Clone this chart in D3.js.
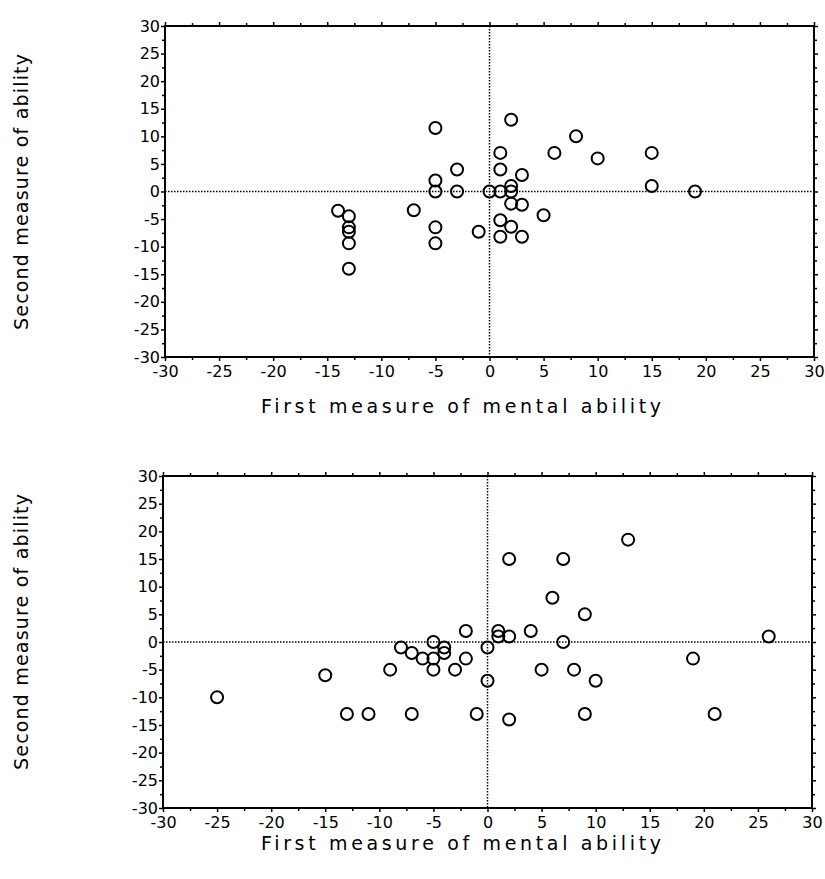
<!DOCTYPE html>
<html>
<head>
<meta charset="utf-8">
<script src="https://cdn.jsdelivr.net/npm/d3@7"></script>
<style>
  body { margin: 0; background: #fff; }
  text { font-family: "DejaVu Sans", Verdana, sans-serif; fill: #000; }
</style>
</head>
<body>
<div id="chart-area"></div>
<script>
// tick labels shared by both panels
const majorTicks = [-30, -25, -20, -15, -10, -5, 0, 5, 10, 15, 20, 25, 30]
const minorTicks = [-27.5, -22.5, -17.5, -12.5, -7.5, -2.5, 2.5, 7.5, 12.5, 17.5, 22.5, 27.5]

// top panel: first vs second measure
const topX = [-5, -5, -5, -3, -3, 0, 1, 2, 2, 2, 1, 1, 3, 6, 8, 10, 15, 15, 19,
              -14, -13, -13, -13, -13, -13, -7, -5, -5, -1, 1, 2, 1, 3, 2, 3, 5]
const topY = [11.5, 2, 0, 4, 0, 0, 0, 1, 0, 13, 7, 4, 3, 7, 10, 6, 7, 1, 0,
              -3.5, -4.5, -6.5, -7.3, -9.4, -14, -3.4, -6.5, -9.4, -7.3, -5.2, -6.4, -8.2, -8.2, -2.2, -2.4, -4.3]

// bottom panel
const botX = [-25, -15, -13, -11, -7, -9, -8, -7, -6, -5, -5, -5, -4, -4, -3, -2, -2, -1, 0, 0,
              1, 1, 2, 4, 7, 5, 8, 10, 9, 2, 19, 21, 26, 2, 7, 13, 6, 9]
const botY = [-10, -6, -13, -13, -13, -5, -1, -2, -3, 0, -3, -5, -1, -2, -5, -3, 2, -13, -1, -7,
              2, 1, 1, 2, 0, -5, -5, -7, -13, -14, -3, -13, 1, 15, 15, 18.5, 8, 5]

const xTitle = "First measure of mental ability"
const yTitle = "Second measure of ability"

const svg = d3.select("#chart-area").append("svg")
    .attr("width", 825)
    .attr("height", 879)

const panels = [
    { xs: topX, ys: topY, left: 165, right: 814, top: 26, bottom: 357, titleY: 413, yTitleY: 192 },
    { xs: botX, ys: botY, left: 163, right: 812, top: 476, bottom: 808, titleY: 850, yTitleY: 632 }
]

const fmt = d => String(d)   // plain hyphen for negatives, like the original

panels.forEach(p => {
    const x = d3.scaleLinear().domain([-30, 30]).range([p.left, p.right])
    const y = d3.scaleLinear().domain([-30, 30]).range([p.bottom, p.top])
    const g = svg.append("g")

    // minor ticks (no labels) on all four sides
    const minor = [
        [d3.axisBottom(x), `translate(0,${p.bottom})`],
        [d3.axisTop(x), `translate(0,${p.top})`],
        [d3.axisLeft(y), `translate(${p.left},0)`],
        [d3.axisRight(y), `translate(${p.right},0)`]
    ]
    minor.forEach(([ax, tr]) => {
        g.append("g")
            .attr("transform", tr)
            .call(ax.tickValues(minorTicks).tickSize(3).tickFormat(""))
            .call(s => s.select(".domain").remove())
            .selectAll("line").attr("stroke-width", 1.5)
    })

    // major ticks, labels only bottom and left
    g.append("g")
        .attr("transform", `translate(0,${p.bottom})`)
        .call(d3.axisBottom(x).tickValues(majorTicks).tickSize(4).tickPadding(5).tickFormat(fmt))
        .call(s => s.select(".domain").remove())
        .call(s => s.selectAll("line").attr("stroke-width", 1.5))
        .selectAll("text").attr("font-size", 16)

    g.append("g")
        .attr("transform", `translate(${p.left},0)`)
        .call(d3.axisLeft(y).tickValues(majorTicks).tickSize(4).tickPadding(1).tickFormat(fmt))
        .call(s => s.select(".domain").remove())
        .call(s => s.selectAll("line").attr("stroke-width", 1.5))
        .selectAll("text").attr("font-size", 16)

    g.append("g")
        .attr("transform", `translate(0,${p.top})`)
        .call(d3.axisTop(x).tickValues(majorTicks).tickSize(4).tickFormat(""))
        .call(s => s.select(".domain").remove())
        .selectAll("line").attr("stroke-width", 1.5)

    g.append("g")
        .attr("transform", `translate(${p.right},0)`)
        .call(d3.axisRight(y).tickValues(majorTicks).tickSize(4).tickFormat(""))
        .call(s => s.select(".domain").remove())
        .selectAll("line").attr("stroke-width", 1.5)

    // dotted zero lines
    g.append("line")
        .attr("x1", p.left).attr("x2", p.right)
        .attr("y1", y(0)).attr("y2", y(0))
        .attr("stroke", "#000").attr("stroke-width", 1.5)
        .attr("stroke-dasharray", "1.5,1.5")
    g.append("line")
        .attr("x1", x(0)).attr("x2", x(0))
        .attr("y1", p.top).attr("y2", p.bottom)
        .attr("stroke", "#000").attr("stroke-width", 1.5)
        .attr("stroke-dasharray", "1.5,1.5")

    // frame
    g.append("rect")
        .attr("x", p.left).attr("y", p.top)
        .attr("width", p.right - p.left).attr("height", p.bottom - p.top)
        .attr("fill", "none").attr("stroke", "#000").attr("stroke-width", 2)

    // points
    g.selectAll("circle")
        .data(p.xs.map((v, i) => [v, p.ys[i]]))
        .enter().append("circle")
        .attr("cx", d => x(d[0]))
        .attr("cy", d => y(d[1]))
        .attr("r", 6)
        .attr("fill", "none")
        .attr("stroke", "#000")
        .attr("stroke-width", 2)

    // axis titles
    g.append("text")
        .attr("x", 461).attr("y", p.titleY)
        .attr("text-anchor", "middle")
        .attr("font-size", 19)
        .attr("textLength", 400)
        .attr("lengthAdjust", "spacing")
        .text(xTitle)

    g.append("text")
        .attr("transform", `translate(28,${p.yTitleY}) rotate(-90)`)
        .attr("text-anchor", "middle")
        .attr("font-size", 19)
        .attr("textLength", 276)
        .attr("lengthAdjust", "spacing")
        .text(yTitle)
})
</script>
</body>
</html>
